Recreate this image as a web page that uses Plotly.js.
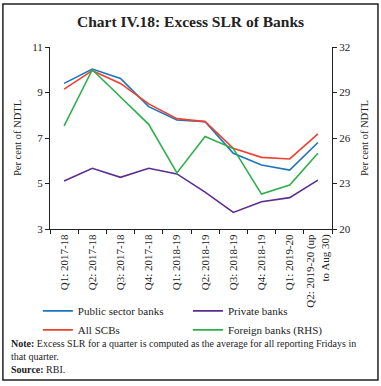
<!DOCTYPE html>
<html><head><meta charset="utf-8">
<script src="https://cdn.plot.ly/plotly-3.0.1.min.js"></script>
<style>body{margin:0;background:#fff}#c{width:381px;height:386px}</style>
</head><body><div id="c"></div>
<script>
const categories = ["Q1: 2017-18","Q2: 2017-18","Q3: 2017-18","Q4: 2017-18","Q1: 2018-19","Q2: 2018-19","Q3: 2018-19","Q4: 2018-19","Q1: 2019-20","Q2: 2019-20 (up<br>to Aug 30)"];
const publicSector = [9.4, 10.03, 9.62, 8.38, 7.79, 7.72, 6.33, 5.81, 5.59, 6.8];
const allSCBs = [9.15, 9.96, 9.4, 8.5, 7.85, 7.72, 6.55, 6.15, 6.08, 7.18];
const privateBanks = [5.11, 5.67, 5.27, 5.67, 5.42, 4.62, 3.73, 4.2, 4.38, 5.15];
const foreignBanks = [26.8, 30.5, 28.7, 26.9, 23.7, 26.1, 25.3, 22.3, 22.9, 25.0];

const F = "Liberation Serif, DejaVu Serif, serif";
const traces = [
  {x: categories, y: privateBanks, name: "Private banks", type: "scatter", mode: "lines", line: {color: "#5c2d91", width: 1.6}, legend: "legend2"},
  {x: categories, y: foreignBanks, name: "Foreign banks (RHS)", type: "scatter", mode: "lines", line: {color: "#2bb04a", width: 1.6}, yaxis: "y2", legend: "legend2"},
  {x: categories, y: publicSector, name: "Public sector banks", type: "scatter", mode: "lines", line: {color: "#1c75bc", width: 1.6}, legend: "legend"},
  {x: categories, y: allSCBs, name: "All SCBs", type: "scatter", mode: "lines", line: {color: "#ef4130", width: 1.6}, legend: "legend"}
];
const legendBase = {orientation: "v", xref: "paper", yref: "paper", xanchor: "left", yanchor: "top", tracegroupgap: 0, font: {family: F, size: 11, color: "#222"}, itemwidth: 30, bgcolor: "rgba(0,0,0,0)", borderwidth: 0, traceorder: "normal"};
const layout = {
  width: 381, height: 386,
  margin: {l: 50, r: 49, t: 47, b: 157},
  paper_bgcolor: "#fff", plot_bgcolor: "#fff",
  font: {family: F, size: 10, color: "#222"},
  title: {text: "<b>Chart IV.18: Excess SLR of Banks</b>", font: {family: F, size: 15.5, color: "#222"}, x: 0.5, xanchor: "center", y: 0.943, yanchor: "middle"},
  showlegend: true,
  legend: Object.assign({}, legendBase, {x: -0.043, y: -0.37}),
  legend2: Object.assign({}, legendBase, {x: 0.489, y: -0.37}),
  xaxis: {type: "category", automargin: false, showline: true, linecolor: "#222", linewidth: 1, ticks: "outside", ticklen: 4, tickcolor: "#222", tickson: "boundaries", tickangle: -90, showgrid: false, zeroline: false, tickfont: {family: F, size: 11, color: "#222"}, range: [-0.5, 9.5]},
  yaxis: {automargin: false, range: [3, 11], tick0: 3, dtick: 2, showline: true, linecolor: "#222", linewidth: 1, ticks: "outside", ticklen: 4, tickcolor: "#222", showgrid: false, zeroline: false, title: {text: "Per cent of NDTL", font: {family: F, size: 10.5, color: "#222"}, standoff: 8}, tickfont: {family: F, size: 11, color: "#222"}},
  yaxis2: {automargin: false, range: [20, 32], tick0: 20, dtick: 3, overlaying: "y", side: "right", showline: true, linecolor: "#222", linewidth: 1, ticks: "outside", ticklen: 4, tickcolor: "#222", showgrid: false, zeroline: false, title: {text: "Per cent of NDTL", font: {family: F, size: 10.5, color: "#222"}, standoff: 10}, tickfont: {family: F, size: 11, color: "#222"}},
  shapes: [{type: "rect", xref: "paper", yref: "paper", x0: -0.167, x1: 1.163, y0: -0.83, y1: 1.236, line: {color: "#222", width: 1.5}}],
  annotations: [
    {xref: "paper", yref: "paper", x: -0.145, y: -0.59, xanchor: "left", yanchor: "top", align: "left", showarrow: false, font: {family: F, size: 10, color: "#222"}, text: "<b>Note:</b> Excess SLR for a quarter is computed as the average for all reporting Fridays in<br>that quarter.<br><b>Source:</b> RBI."}
  ]
};
Plotly.newPlot("c", traces, layout, {displayModeBar: false, staticPlot: true});
</script></body></html>
